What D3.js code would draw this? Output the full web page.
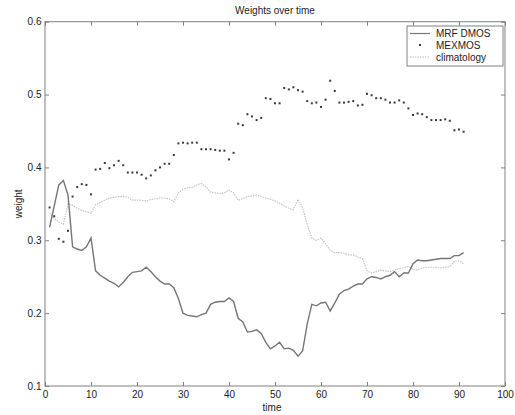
<!DOCTYPE html>
<html><head><meta charset="utf-8">
<script src="https://cdn.jsdelivr.net/npm/d3@7"></script>
<style>body{margin:0;background:#fff}svg{display:block}text{font-family:"Liberation Sans",Arial,sans-serif;fill:#222}</style>
</head><body><svg id="c" width="515" height="415"></svg>
<script>
const title = "Weights over time";
const xLabel = "time";
const yLabel = "weight";
const seriesNames = ["MRF DMOS", "MEXMOS", "climatology"];
const xTicks = [0,10,20,30,40,50,60,70,80,90,100];
const yTicks = [0.1,0.2,0.3,0.4,0.5,0.6];
const time = d3.range(1, 92);
const mrfDmos = [0.318,0.347,0.376,0.382,0.362,0.291,0.288,0.286,0.291,0.303,
0.258,0.252,0.248,0.244,0.241,0.236,0.242,0.250,0.256,0.257,
0.258,0.263,0.257,0.250,0.244,0.240,0.240,0.235,0.220,0.200,
0.197,0.196,0.195,0.198,0.200,0.212,0.215,0.216,0.216,0.221,
0.216,0.193,0.188,0.174,0.175,0.177,0.172,0.160,0.151,0.155,
0.160,0.151,0.152,0.149,0.141,0.148,0.185,0.212,0.210,0.214,
0.215,0.203,0.214,0.226,0.231,0.233,0.237,0.240,0.240,0.247,
0.250,0.249,0.247,0.250,0.252,0.257,0.250,0.255,0.255,0.268,
0.273,0.272,0.272,0.273,0.274,0.275,0.275,0.275,0.279,0.279,0.283];
const mexmos = [0.345,0.333,0.302,0.298,0.313,0.360,0.373,0.377,0.376,0.363,
0.397,0.398,0.406,0.399,0.403,0.409,0.403,0.393,0.393,0.393,
0.390,0.385,0.389,0.396,0.400,0.405,0.405,0.417,0.433,0.434,
0.433,0.434,0.434,0.425,0.425,0.425,0.424,0.423,0.423,0.411,
0.420,0.460,0.458,0.473,0.470,0.465,0.468,0.495,0.494,0.488,
0.488,0.509,0.507,0.510,0.506,0.504,0.491,0.488,0.489,0.483,
0.493,0.519,0.505,0.489,0.489,0.490,0.491,0.485,0.486,0.501,
0.499,0.495,0.495,0.493,0.489,0.489,0.492,0.489,0.481,0.472,
0.474,0.473,0.469,0.465,0.465,0.465,0.466,0.464,0.451,0.452,0.449];
const climatology = [0.337,0.330,0.325,0.322,0.350,0.348,0.344,0.341,0.339,0.337,
0.349,0.352,0.355,0.358,0.359,0.360,0.360,0.359,0.355,0.355,
0.355,0.354,0.356,0.357,0.358,0.358,0.357,0.353,0.365,0.370,
0.372,0.373,0.376,0.378,0.373,0.366,0.365,0.364,0.365,0.369,
0.365,0.355,0.357,0.360,0.361,0.362,0.360,0.358,0.356,0.354,
0.351,0.347,0.344,0.342,0.356,0.345,0.322,0.303,0.300,0.303,
0.295,0.286,0.283,0.283,0.282,0.280,0.280,0.277,0.275,0.258,
0.255,0.257,0.259,0.258,0.257,0.259,0.261,0.262,0.264,0.260,
0.259,0.262,0.263,0.263,0.263,0.262,0.263,0.264,0.271,0.272,0.268];

const svg = d3.select("#c");
const L = 45, R = 505, T = 21.7, B = 386;
const x = d3.scaleLinear().domain([0,100]).range([L,R]);
const y = d3.scaleLinear().domain([0.1,0.6]).range([B,T]);
const axisCol = "#808080", fs = "10px";

// frame
svg.append("rect").attr("x",L).attr("y",T).attr("width",R-L).attr("height",B-T)
  .attr("fill","none").attr("stroke",axisCol).attr("stroke-width",1);

function styleAxis(g){ g.select(".domain").remove(); g.selectAll("line").attr("stroke",axisCol);
  g.selectAll("text").style("font-size",fs).attr("fill","#222"); }
svg.append("g").attr("transform",`translate(0,${B})`)
  .call(d3.axisBottom(x).tickValues(xTicks).tickSize(-4).tickPadding(5).tickFormat(d3.format("d"))).call(styleAxis);
svg.append("g").attr("transform",`translate(0,${T})`)
  .call(d3.axisTop(x).tickValues(xTicks).tickSize(-4).tickFormat("")).call(styleAxis);
svg.append("g").attr("transform",`translate(${L},0)`)
  .call(d3.axisLeft(y).tickValues(yTicks).tickSize(-4).tickPadding(3.5).tickFormat(d3.format(".1f"))).call(styleAxis);
svg.append("g").attr("transform",`translate(${R},0)`)
  .call(d3.axisRight(y).tickValues(yTicks).tickSize(-4).tickFormat("")).call(styleAxis);

// lines
const line = d3.line().x((d,i)=>x(time[i])).y(d=>y(d));
svg.append("path").datum(climatology).attr("d",line).attr("fill","none")
  .attr("stroke","#c4c4c4").attr("stroke-width",1.2).attr("stroke-dasharray","1.5,1");
svg.append("path").datum(mrfDmos).attr("d",line).attr("fill","none")
  .attr("stroke","#767676").attr("stroke-width",1.4);
svg.append("g").selectAll("rect").data(mexmos).join("rect")
  .attr("x",(d,i)=>x(time[i])-1).attr("y",d=>y(d)-1).attr("width",2).attr("height",2).attr("fill","#3a3a3a");

// texts
svg.append("text").attr("x",(L+R)/2).attr("y",14).attr("text-anchor","middle").style("font-size",fs).text(title);
svg.append("text").attr("x",(L+R)/2-3).attr("y",411).attr("text-anchor","middle").style("font-size",fs).text(xLabel);
svg.append("text").attr("transform",`translate(22,${(T+B)/2}) rotate(-90)`).attr("text-anchor","middle").style("font-size",fs).text(yLabel);

// legend
const lg = svg.append("g");
lg.append("rect").attr("x",407).attr("y",26).attr("width",96).attr("height",40)
  .attr("fill","#fff").attr("stroke",axisCol).attr("stroke-width",1);
const rows = [33.5, 45, 57];
lg.append("line").attr("x1",410).attr("x2",430).attr("y1",rows[0]).attr("y2",rows[0]).attr("stroke","#767676").attr("stroke-width",1.2);
lg.append("rect").attr("x",419).attr("y",rows[1]-1).attr("width",2).attr("height",2).attr("fill","#3a3a3a");
lg.append("line").attr("x1",410).attr("x2",430).attr("y1",rows[2]).attr("y2",rows[2]).attr("stroke","#c4c4c4").attr("stroke-width",1.2).attr("stroke-dasharray","1.5,1");
seriesNames.forEach((n,i)=>lg.append("text").attr("x",436).attr("y",rows[i]+3.6).style("font-size",fs).text(n));
</script></body></html>
